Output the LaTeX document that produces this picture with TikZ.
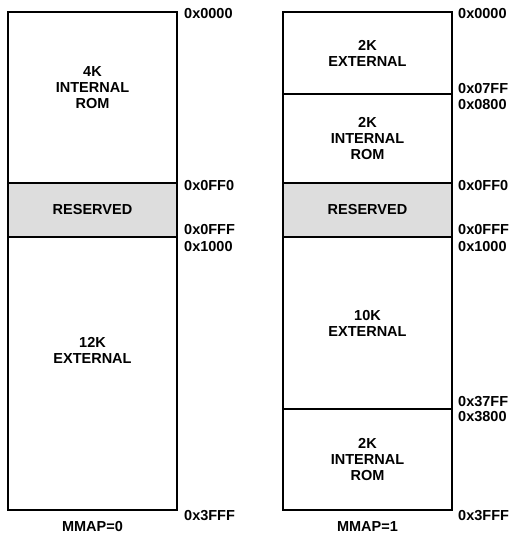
\documentclass[tikz,border=0pt]{standalone}
\usepackage{fontspec}
\setmainfont{Liberation Sans}
\usetikzlibrary{positioning}
\newcommand{\memfont}{\fontsize{14.5pt}{16pt}\selectfont\bfseries}
\tikzset{block/.style={draw,line width=1.3pt,minimum width=169pt,outer sep=0pt,inner sep=0pt,align=center,font=\memfont}}
\tikzset{reserved/.style={block,fill=gray!27}}
\tikzset{addr/.style={anchor=west,inner sep=0pt,font=\memfont}}
\tikzset{info/.style={align=center,inner sep=0pt,font=\memfont}}

\begin{document}
\begin{tikzpicture}[x=1pt,y=-1pt]
\useasboundingbox (0,0) rectangle (515,533);

%MMAP=0
\node[block,minimum height=171pt,anchor=north west] (rom0) at (8,12) {};
\node[reserved,minimum height=54pt] (res0) [below=0pt of rom0] {RESERVED};
\node[block,minimum height=273pt] (ext0) [below=0pt of res0] {};
\node[info] (romtxt0) at ([yshift=10pt]rom0.center) {4K\\INTERNAL\\ROM};
\node[info] (exttxt0) at ([yshift=23pt]ext0.center) {12K\\EXTERNAL};
\node[info] (mmap0) [below=11pt of ext0] {MMAP=0};

\node[addr] at ([xshift=7pt,yshift=-2pt]rom0.north east) {0x0000};
\node[addr] at ([xshift=7pt,yshift=-3pt]res0.north east) {0x0FF0};
\node[addr] at ([xshift=7pt,yshift=7pt]res0.south east) {0x0FFF};
\node[addr] at ([xshift=7pt,yshift=-10pt]ext0.north east) {0x1000};
\node[addr] at ([xshift=7pt,yshift=-6pt]ext0.south east) {0x3FFF};

%MMAP=1
\node[block,minimum height=82pt,anchor=north west] (exta1) at (283,12) {2K\\EXTERNAL};
\node[block,minimum height=89pt] (roma1) [below=0pt of exta1] {2K\\INTERNAL\\ROM};
\node[reserved,minimum height=54pt] (res1) [below=0pt of roma1] {RESERVED};
\node[block,minimum height=172pt] (extb1) [below=0pt of res1] {10K\\EXTERNAL};
\node[block,minimum height=101pt] (romb1) [below=0pt of extb1] {2K\\INTERNAL\\ROM};
\node[info] (mmap1) [below=11pt of romb1] {MMAP=1};

\node[addr] at ([xshift=6pt,yshift=-2pt]exta1.north east) {0x0000};
\node[addr] at ([xshift=6pt,yshift=5pt]exta1.south east) {0x07FF};
\node[addr] at ([xshift=6pt,yshift=-11pt]roma1.north east) {0x0800};
\node[addr] at ([xshift=6pt,yshift=-3pt]res1.north east) {0x0FF0};
\node[addr] at ([xshift=6pt,yshift=7pt]res1.south east) {0x0FFF};
\node[addr] at ([xshift=6pt,yshift=-10pt]extb1.north east) {0x1000};
\node[addr] at ([xshift=6pt,yshift=7pt]extb1.south east) {0x37FF};
\node[addr] at ([xshift=6pt,yshift=-8pt]romb1.north east) {0x3800};
\node[addr] at ([xshift=6pt,yshift=-6pt]romb1.south east) {0x3FFF};

\end{tikzpicture}
\end{document}
